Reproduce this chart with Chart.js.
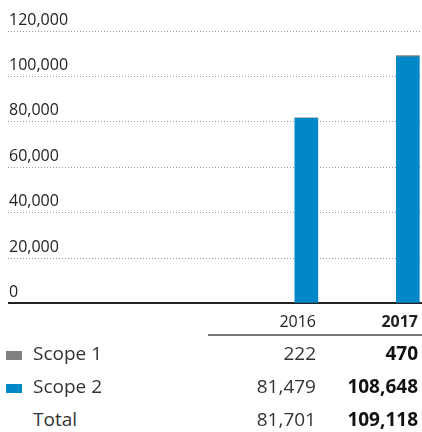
<!DOCTYPE html>
<html>
<head>
<meta charset="utf-8">
<script src="https://cdn.jsdelivr.net/npm/chart.js@4/dist/chart.umd.min.js"></script>
<style>
  body { margin: 0; background: #fff; font-family: "Open Sans", sans-serif; color: #333; }
  #wrap { position: relative; width: 422px; height: 432px; overflow: hidden; }
  #chart { position: absolute; left: 0; top: 0; }
  .cell { position: absolute; white-space: nowrap; line-height: 24px; }
  .swatch { position: absolute; width: 16px; height: 9px; }
  #rule { position: absolute; left: 208px; width: 214px; top: 334px; height: 1.5px; background: #777; }
</style>
</head>
<body>
<div id="wrap">
  <canvas id="chart" width="422" height="314"></canvas>
  <div id="rule"></div>
  <div id="table"></div>
</div>
<script>
// Chart data
const years = [2016, 2017];
const scope1 = [222, 470];
const scope2 = [81479, 108648];
const yTicks = [0, 20000, 40000, 60000, 80000, 100000, 120000];

const blue = '#0088c8';
const grey = '#808080';

const fmt = v => v.toLocaleString('en-US');

const ctx = document.getElementById('chart').getContext('2d');

const chart = new Chart(ctx, {
    type: 'bar',
    data: {
        datasets: [{
            label: 'Scope 2',
            data: years.map((y, i) => ({ x: y, y: scope2[i] })),
            backgroundColor: blue,
            barThickness: 23
        }, {
            label: 'Scope 1',
            data: years.map((y, i) => ({ x: y, y: scope1[i] })),
            backgroundColor: grey,
            barThickness: 23
        }]
    },
    options: {
        responsive: false,
        animation: false,
        layout: { padding: { left: 6, right: 0, top: 31, bottom: 0 } },
        plugins: { legend: { display: false }, tooltip: { enabled: false } },
        scales: {
            x: {
                type: 'linear',
                stacked: true,
                display: false,
                offset: false,
                min: 2013.06,
                max: 2017.14
            },
            y: {
                stacked: true,
                min: 0,
                max: 120000,
                afterBuildTicks: axis => { axis.ticks = yTicks.map(v => ({ value: v })); },
                border: {
                    display: false,
                    dash: c => (c.tick && c.tick.value === 0) ? [] : [1, 2]
                },
                grid: {
                    drawTicks: false,
                    color: c => c.tick.value === 0 ? '#222' : '#9a9a9a',
                    lineWidth: c => c.tick.value === 0 ? 2 : 1
                },
                ticks: {
                    mirror: true,
                    padding: 1,
                    labelOffset: -11,
                    color: '#222',
                    font: { family: 'Open Sans', size: 16 },
                    callback: v => fmt(v)
                }
            }
        }
    }
});

// Table under the chart
const table = document.getElementById('table');
function cell(text, style) {
    const d = document.createElement('div');
    d.className = 'cell';
    d.textContent = text;
    Object.assign(d.style, style);
    table.appendChild(d);
}
const colRight = ['106px', '4px'];

// header
years.forEach((y, i) => cell(String(y), {
    right: colRight[i], top: '309px', fontSize: '16px',
    fontWeight: i === years.length - 1 ? '700' : '400', color: '#222'
}));

const rows = [
    { name: 'Scope 1', values: scope1, color: grey, top: 341 },
    { name: 'Scope 2', values: scope2, color: blue, top: 374 },
    { name: 'Total', values: years.map((y, i) => scope1[i] + scope2[i]), color: null, top: 407 }
];
rows.forEach(r => {
    if (r.color) {
        const s = document.createElement('div');
        s.className = 'swatch';
        s.style.left = '6px';
        s.style.top = (r.top + 10) + 'px';
        s.style.background = r.color;
        table.appendChild(s);
    }
    cell(r.name, { left: '33px', top: r.top + 'px', fontSize: '19px' });
    r.values.forEach((v, i) => cell(fmt(v), {
        right: colRight[i], top: r.top + 'px', fontSize: '19px',
        fontWeight: i === years.length - 1 ? '700' : '400',
        color: i === years.length - 1 ? '#111' : '#333'
    }));
});
</script>
</body>
</html>
